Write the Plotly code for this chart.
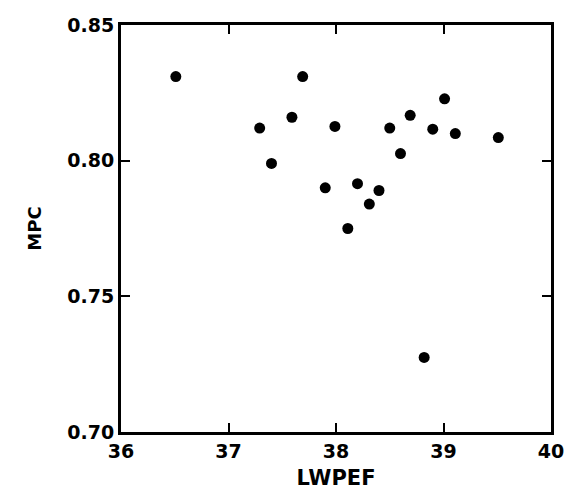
import plotly.graph_objects as go

lwpef = [36.51, 37.29, 37.40, 37.59, 37.69, 37.90, 37.99, 38.20, 38.40, 38.31,
         38.11, 38.50, 38.60, 38.69, 38.90, 39.01, 39.11, 39.51, 38.82]
mpc = [0.831, 0.812, 0.799, 0.816, 0.831, 0.790, 0.8126, 0.7915, 0.789, 0.784,
       0.775, 0.812, 0.8026, 0.8167, 0.8116, 0.8228, 0.810, 0.8085, 0.7275]

x_ticks = [36, 37, 38, 39, 40]
x_ticklabels = ["36", "37", "38", "39", "40"]
y_ticks = [0.70, 0.75, 0.80, 0.85]
y_ticklabels = ["0.70", "0.75", "0.80", "0.85"]

fig = go.Figure()
fig.add_trace(go.Scatter(
    x=lwpef, y=mpc, mode="markers",
    marker=dict(color="black", size=11, line=dict(width=0)),
    showlegend=False,
))

tickfont = dict(family="DejaVu Sans", size=19, color="black", weight="bold")
titlefont = dict(family="DejaVu Sans", size=21, color="black", weight="bold")

fig.update_layout(
    width=576, height=499,
    margin=dict(l=121, r=21, t=25, b=67),
    paper_bgcolor="white", plot_bgcolor="white",
    xaxis=dict(
        range=[36, 40], tickvals=x_ticks, ticktext=x_ticklabels,
        ticks="inside", ticklen=9, tickwidth=2, tickcolor="black",
        showline=True, linewidth=3, linecolor="black", mirror="ticks",
        showgrid=False, zeroline=False, tickfont=tickfont,
        title=dict(text="LWPEF", font=titlefont, standoff=10),
    ),
    yaxis=dict(
        range=[0.70, 0.85], tickvals=y_ticks, ticktext=y_ticklabels,
        ticks="inside", ticklen=9, tickwidth=2, tickcolor="black",
        showline=True, linewidth=3, linecolor="black", mirror="ticks",
        showgrid=False, zeroline=False, tickfont=tickfont,
        title=dict(text="MPC", font=dict(family="DejaVu Sans", size=18, color="black", weight="bold"), standoff=22),
    ),
)

fig.write_html("out.html")
